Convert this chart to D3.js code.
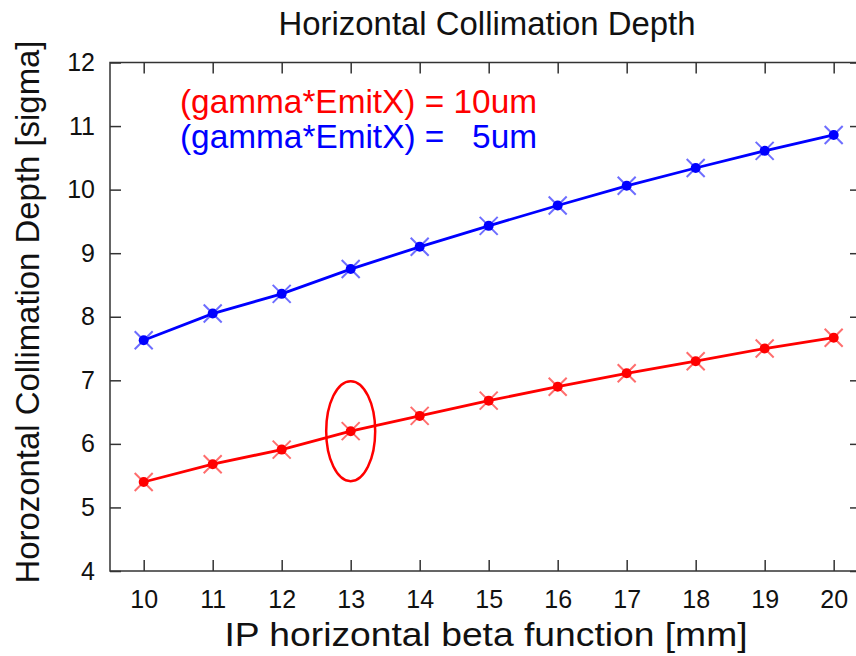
<!DOCTYPE html>
<html>
<head>
<meta charset="utf-8">
<script src="https://cdn.jsdelivr.net/npm/d3@7"></script>
<style>
  body { margin: 0; background: #fff; }
  svg { font-family: "Liberation Sans", Arial, sans-serif; }
</style>
</head>
<body>
<svg id="chart" width="856" height="656"></svg>
<script>
// data
const betaX = [10, 11, 12, 13, 14, 15, 16, 17, 18, 19, 20];
const depth10um = [5.40, 5.68, 5.91, 6.20, 6.44, 6.68, 6.90, 7.11, 7.30, 7.50, 7.67];
const depth5um = [7.63, 8.05, 8.36, 8.75, 9.10, 9.43, 9.75, 10.06, 10.34, 10.61, 10.86];
const xTicks = [10, 11, 12, 13, 14, 15, 16, 17, 18, 19, 20];
const yTicks = [4, 5, 6, 7, 8, 9, 10, 11, 12];
const legendLabels = ["(gamma*EmitX) = 10um", "(gamma*EmitX) =   5um"];
const highlightBeta = 13;

const svg = d3.select('#chart');

const plotL = 110, plotR = 861, plotT = 62.5, plotB = 571;

const x = d3.scaleLinear().domain([9.5116, 20.396]).range([plotL, plotR]);
const y = d3.scaleLinear().domain([4, 12]).range([plotB, plotT]);

// frame
svg.append('rect')
    .attr('x', plotL).attr('y', plotT)
    .attr('width', plotR - plotL).attr('height', plotB - plotT)
    .attr('fill', 'none').attr('stroke', '#333').attr('stroke-width', 1.5);

// ticks pointing inward on all four sides
const tickLen = 11;
function styleAxis(g) {
    g.select('.domain').remove();
    g.selectAll('.tick line').attr('stroke', '#333').attr('stroke-width', 1.5);
    g.selectAll('.tick text').attr('font-size', 25).attr('fill', '#111')
        .attr('font-family', '"Liberation Sans", Arial, sans-serif');
}

svg.append('g').attr('transform', `translate(0,${plotB})`)
    .call(d3.axisBottom(x).tickValues(xTicks).tickSizeInner(-tickLen).tickSizeOuter(0).tickPadding(19))
    .call(styleAxis);
svg.append('g').attr('transform', `translate(0,${plotT})`)
    .call(d3.axisTop(x).tickValues(xTicks).tickSizeInner(-tickLen).tickSizeOuter(0).tickFormat(''))
    .call(styleAxis);
svg.append('g').attr('transform', `translate(${plotL},0)`)
    .call(d3.axisLeft(y).tickValues(yTicks).tickSizeInner(-tickLen).tickSizeOuter(0).tickPadding(15))
    .call(styleAxis);
svg.append('g').attr('transform', `translate(${plotR},0)`)
    .call(d3.axisRight(y).tickValues(yTicks).tickSizeInner(-tickLen).tickSizeOuter(0).tickFormat(''))
    .call(styleAxis);

// series
const series = [
    { values: depth10um, color: '#ff0000', light: 'rgba(255,60,60,0.75)' },
    { values: depth5um, color: '#0000ff', light: 'rgba(60,60,255,0.75)' }
];

const line = d3.line().x(d => x(d[0])).y(d => y(d[1]));

series.forEach(s => {
    const pts = betaX.map((b, i) => [b, s.values[i]]);
    svg.append('path')
        .attr('d', line(pts))
        .attr('fill', 'none')
        .attr('stroke', s.color)
        .attr('stroke-width', 2.8);

    const m = svg.append('g').selectAll('g').data(pts).enter().append('g')
        .attr('transform', d => `translate(${x(d[0])},${y(d[1])})`);
    m.append('path')
        .attr('d', 'M-9,-9L9,9M-9,9L9,-9')
        .attr('stroke', s.light)
        .attr('stroke-width', 2);
    m.append('circle')
        .attr('r', 5)
        .attr('fill', s.color);
});

// highlight ellipse round the 13 mm point of the 10um series
const hi = betaX.indexOf(highlightBeta);
svg.append('ellipse')
    .attr('cx', x(highlightBeta))
    .attr('cy', y(depth10um[hi]))
    .attr('rx', 24.5).attr('ry', 50)
    .attr('fill', 'none')
    .attr('stroke', '#ff0000')
    .attr('stroke-width', 2.5);

// legend
svg.append('text')
    .attr('x', 180).attr('y', 113)
    .attr('font-size', 33).attr('fill', '#ff0000')
    .attr('xml:space', 'preserve')
    .attr('textLength', 357).attr('lengthAdjust', 'spacingAndGlyphs')
    .text(legendLabels[0]);
svg.append('text')
    .attr('x', 180).attr('y', 148)
    .attr('font-size', 33).attr('fill', '#0000ff')
    .attr('xml:space', 'preserve')
    .attr('textLength', 357).attr('lengthAdjust', 'spacingAndGlyphs')
    .text(legendLabels[1]);

// title and axis labels
svg.append('text')
    .attr('x', 487).attr('y', 35)
    .attr('text-anchor', 'middle')
    .attr('font-size', 34).attr('fill', '#111')
    .attr('textLength', 417).attr('lengthAdjust', 'spacingAndGlyphs')
    .text('Horizontal Collimation Depth');

svg.append('text')
    .attr('x', 486).attr('y', 646)
    .attr('text-anchor', 'middle')
    .attr('font-size', 33).attr('fill', '#111')
    .attr('textLength', 523).attr('lengthAdjust', 'spacingAndGlyphs')
    .text('IP horizontal beta function [mm]');

svg.append('text')
    .attr('transform', 'translate(39,312) rotate(-90)')
    .attr('text-anchor', 'middle')
    .attr('font-size', 33).attr('fill', '#111')
    .attr('textLength', 543).attr('lengthAdjust', 'spacingAndGlyphs')
    .text('Horozontal Collimation Depth [sigma]');
</script>
</body>
</html>
